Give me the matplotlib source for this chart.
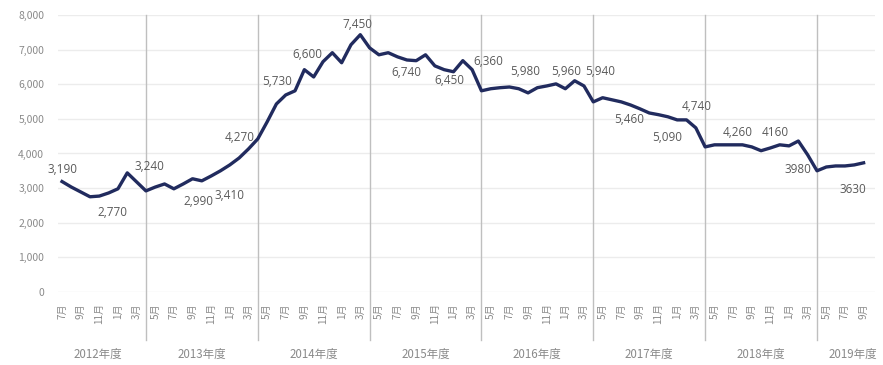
import matplotlib.pyplot as plt
import numpy as np

plt.rcParams['font.family'] = ['Noto Sans CJK JP', 'DejaVu Sans']

# monthly values, Jul 2012 .. Sep 2019
values = [
    3190, 3030, 2890, 2750, 2770, 2860, 2980, 3440, 3180,              # FY2012 (Jul-Mar)
    2920, 3030, 3120, 2980, 3120, 3270, 3210, 3350, 3500, 3670, 3870, 4130,  # FY2013
    4420, 4910, 5430, 5690, 5810, 6420, 6210, 6650, 6910, 6620, 7140, 7430,  # FY2014
    7050, 6850, 6910, 6790, 6700, 6680, 6850, 6530, 6420, 6360, 6680, 6420,  # FY2015
    5810, 5870, 5900, 5920, 5870, 5750, 5900, 5950, 6010, 5870, 6100, 5950,  # FY2016
    5490, 5610, 5550, 5490, 5400, 5290, 5170, 5120, 5060, 4970, 4970, 4740,  # FY2017
    4190, 4250, 4250, 4250, 4250, 4190, 4080, 4160, 4250, 4220, 4360, 3960,  # FY2018
    3500, 3610, 3640, 3640, 3670, 3730,                                      # FY2019 (Apr-Sep)
]

start_month = 7
fiscal_years = ['2012年度', '2013年度', '2014年度', '2015年度',
                '2016年度', '2017年度', '2018年度', '2019年度']

label_text = ['3,190', '2,770', '3,240', '2,990', '3,410', '4,270', '5,730',
              '6,600', '7,450', '6,740', '6,450', '6,360', '5,980', '5,960',
              '5,940', '5,460', '5,090', '4,740', '4,260', '4160', '3980', '3630']
# label centres (month index, value units)
label_pos = [(0.1, 3530), (5.4, 2310), (9.4, 3610), (14.6, 2600), (18.0, 2800),
             (19.1, 4450), (23.1, 6070), (26.3, 6850), (31.7, 7720), (36.9, 6330),
             (41.6, 6100), (45.7, 6650), (49.7, 6360), (54.1, 6360), (57.7, 6360),
             (60.9, 4970), (64.9, 4450), (68.1, 5350), (72.5, 4600), (76.5, 4600),
             (79.0, 3530), (84.9, 2950)]

n = len(values)
x = np.arange(n)
month_num = [(start_month - 1 + i) % 12 + 1 for i in range(n)]
april_idx = [i for i in range(n) if month_num[i] == 4]

fig = plt.figure(figsize=(8.83, 3.65), dpi=100)
ax = fig.add_axes([0.0657, 0.2, 0.925, 0.759])

ax.plot(x, values, color='#212b5e', lw=2.4, solid_joinstyle='round', zorder=3)

ax.set_ylim(0, 8000)
ax.set_xlim(-0.43, 87.2)
ax.set_yticks(np.arange(0, 8001, 1000))
ax.set_yticklabels([f'{v:,}' for v in range(0, 8001, 1000)])
ax.grid(axis='y', color='#ececec', lw=1.0)
ax.set_axisbelow(True)
for s in ax.spines.values():
    s.set_visible(False)

ticks = x[::2]
ax.set_xticks(ticks)
ax.set_xticklabels([f'{month_num[i]}月' for i in ticks], rotation=90,
                   va='top', ha='center')
ax.tick_params(axis='x', length=0, pad=8, labelsize=7.2, labelcolor='#8a8a8a')
ax.tick_params(axis='y', length=0, pad=10, labelsize=7.5, labelcolor='#8a8a8a')

# fiscal-year dividers
for i in april_idx:
    ax.axvline(i, ymin=-0.175, ymax=1, color='#bfbfbf', lw=1.0,
               clip_on=False, zorder=1)

# fiscal-year names
bounds = [0] + april_idx + [n]
for k, fy in enumerate(fiscal_years):
    lo, hi = bounds[k], bounds[k + 1]
    cx = (lo + hi - 1) / 2 + 0.5
    if k == 0:
        cx = (lo + hi - 1) / 2 - 0.2
    if k == len(fiscal_years) - 1:
        cx = 84.9
    ax.text(cx, -0.227, fy, transform=ax.get_xaxis_transform(),
            ha='center', va='center', fontsize=8.3, color='#8a8a8a')

for t, (lx, ly) in zip(label_text, label_pos):
    ax.text(lx, ly, t, ha='center', va='center', fontsize=8.5,
            color='#5a5a5a', family=['Open Sans', 'DejaVu Sans'], zorder=4)

fig.savefig('out.png', dpi=100)
